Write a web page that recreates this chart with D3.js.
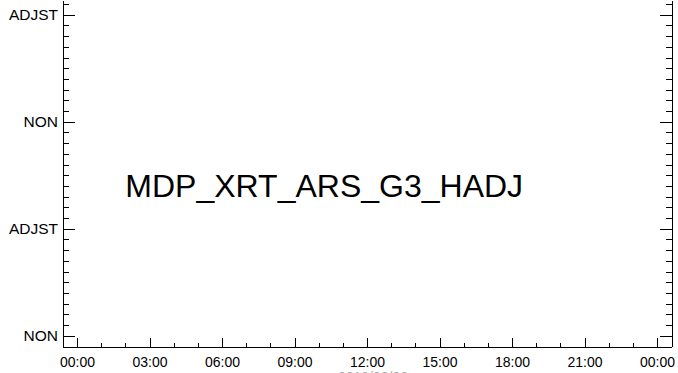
<!DOCTYPE html>
<html>
<head>
<meta charset="utf-8">
<script src="https://cdn.jsdelivr.net/npm/d3@7"></script>
<style>
  html, body { margin: 0; padding: 0; background: #fff; }
  svg { display: block; }
  text { font-family: Arial, "Liberation Sans", Helvetica, sans-serif; }
</style>
</head>
<body>
<svg id="chart" width="678" height="373"></svg>
<script>
// ---- data ----
const yCategories = ["NON", "ADJST", "NON", "ADJST"];   // values 0..3
const yValues = [0, 1, 2, 3];
const xMajorHours = [0, 3, 6, 9, 12, 15, 18, 21, 24];
const xMinorHours = d3.range(0, 25, 1);
const yMinorValues = d3.range(-1, 32, 1).map(d => d / 10);
const chartLabel = "MDP_XRT_ARS_G3_HADJ";
const dateLabel = "2019/06/06";
const dayStart = new Date(2019, 5, 6, 0, 0, 0);

// ---- layout ----
const plotLeft = 62.5, plotRight = 671.5, plotBottom = 346.5, plotTop = 0;
const svg = d3.select("#chart");

const hour = h => new Date(dayStart.getTime() + h * 3600e3);
const x = d3.scaleTime().domain([hour(-0.6), hour(24.6)]).range([plotLeft, plotRight]);
const y = d3.scaleLinear().domain([-0.1, 3.1375]).range([plotBottom, plotTop]);

const font = 'Arial, "Liberation Sans", Helvetica, sans-serif';

// bottom axis - minor ticks
svg.append("g")
  .attr("transform", `translate(0,${plotBottom})`)
  .call(d3.axisBottom(x).tickValues(xMinorHours.map(hour)).tickSize(-4).tickSizeOuter(0).tickFormat(""))
  .call(g => g.select(".domain").remove());

// bottom axis - major ticks with labels
svg.append("g")
  .attr("transform", `translate(0,${plotBottom})`)
  .call(d3.axisBottom(x).tickValues(xMajorHours.map(hour)).tickSize(-9).tickSizeOuter(0)
        .tickPadding(10.5).tickFormat(d3.timeFormat("%H:%M")))
  .call(g => g.selectAll("text").attr("font-size", 14).attr("font-family", font).attr("fill", "#000"));

// left axis - minor
svg.append("g")
  .attr("transform", `translate(${plotLeft},0)`)
  .call(d3.axisLeft(y).tickValues(yMinorValues).tickSize(-6).tickSizeOuter(0).tickFormat(""))
  .call(g => g.select(".domain").remove());

// left axis - major with labels
svg.append("g")
  .attr("transform", `translate(${plotLeft},0)`)
  .call(d3.axisLeft(y).tickValues(yValues).tickSize(-12).tickSizeOuter(0)
        .tickPadding(4.5).tickFormat((d, i) => yCategories[i]))
  .call(g => g.selectAll("text").attr("font-size", 15.5).attr("font-family", font).attr("fill", "#000"));

// right axis - minor
svg.append("g")
  .attr("transform", `translate(${plotRight},0)`)
  .call(d3.axisRight(y).tickValues(yMinorValues).tickSize(-6).tickSizeOuter(0).tickFormat(""))
  .call(g => g.select(".domain").remove());

// right axis - major
svg.append("g")
  .attr("transform", `translate(${plotRight},0)`)
  .call(d3.axisRight(y).tickValues(yValues).tickSize(-12).tickSizeOuter(0).tickFormat(""));

svg.selectAll(".domain, .tick line").attr("stroke", "#000").attr("shape-rendering", "crispEdges");

// centre label
svg.append("text")
  .attr("x", x(hour(2)))
  .attr("y", y(1.3))
  .attr("font-size", 32)
  .attr("font-family", font)
  .attr("fill", "#000")
  .text(chartLabel);

// clipped date label at bottom
svg.append("text")
  .attr("x", x(hour(12)) + 6)
  .attr("y", 382)
  .attr("text-anchor", "middle")
  .attr("font-size", 14)
  .attr("font-family", font)
  .attr("fill", "#aaa")
  .text(dateLabel);
</script>
</body>
</html>
